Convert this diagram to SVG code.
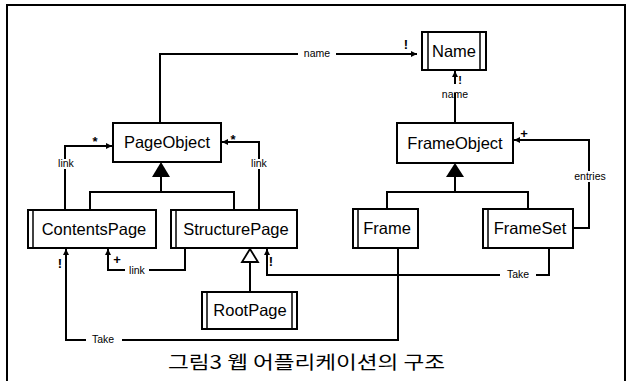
<svg xmlns="http://www.w3.org/2000/svg" width="630" height="381" viewBox="0 0 630 381">
<defs>
<marker id="arr" viewBox="0 0 8 8" refX="8" refY="4" markerWidth="6" markerHeight="6" orient="auto" markerUnits="userSpaceOnUse">
<path d="M0,0 L8,4 L0,8 z" fill="#000"/>
</marker>
</defs>
<style>
.box{fill:#fff;stroke:#000;stroke-width:2}
.dbl{fill:none;stroke:#000;stroke-width:1.5}
.nt{font-family:"Liberation Sans",Arial,sans-serif;font-size:16.5px;text-anchor:middle;fill:#000}
.lb{font-family:"Liberation Sans",Arial,sans-serif;font-size:10.5px;text-anchor:middle;fill:#000}
.mk{font-family:"Liberation Sans",Arial,sans-serif;font-size:13px;font-weight:bold;text-anchor:middle;fill:#000}
.ln{fill:none;stroke:#000;stroke-width:1.2;shape-rendering:crispEdges}
.inh{fill:none;stroke:#000;stroke-width:2}
.cap{font-family:"Noto Sans CJK KR","Noto Sans CJK SC",sans-serif;font-size:18px;fill:#000}
</style>
<rect x="7" y="5" width="618" height="380" fill="none" stroke="#000" stroke-width="2"/>
<g id="connectors">
<polyline class="ln" points="160,123 160,54 417,54" marker-end="url(#arr)"/>
<rect x="298" y="48" width="38" height="11" fill="#fff"/>
<text class="lb" x="317" y="57">name</text>
<text class="mk" x="406" y="49">!</text>
<line class="ln" x1="455" y1="123" x2="455" y2="71" marker-end="url(#arr)"/>
<rect x="440" y="84" width="30" height="9" fill="#fff"/>
<text class="mk" x="460" y="84" style="font-size:11px">!</text>
<text class="lb" x="455" y="98">name</text>
<polyline class="ln" points="572,228 589,228 589,140 514,140" marker-end="url(#arr)"/>
<rect x="576" y="171" width="30" height="11" fill="#fff"/>
<text class="lb" x="590" y="180">entries</text>
<text class="mk" x="524" y="138">+</text>
<polygon points="161,162 152,177 170,177" fill="#000"/>
<polyline class="inh" points="161,177 161,192"/>
<polyline class="inh" points="90,210 90,192 234,192 234,210"/>
<polygon points="455,163 446,177 464,177" fill="#000"/>
<polyline class="inh" points="455,177 455,192"/>
<polyline class="inh" points="387,209 387,192 528,192 528,209"/>
<polyline class="ln" points="65,210 65,146 112,146" marker-end="url(#arr)"/>
<rect x="55" y="159" width="22" height="10" fill="#fff"/>
<text class="lb" x="66" y="167">link</text>
<text class="mk" x="95" y="146">*</text>
<polyline class="ln" points="259,210 259,142 222,142" marker-end="url(#arr)"/>
<rect x="248" y="159" width="22" height="10" fill="#fff"/>
<text class="lb" x="259" y="167">link</text>
<text class="mk" x="233" y="144">*</text>
<polyline class="ln" points="185,248 185,270 108,270 108,249" marker-end="url(#arr)"/>
<rect x="125" y="265" width="24" height="10" fill="#fff"/>
<text class="lb" x="137" y="274">link</text>
<text class="mk" x="117" y="264">+</text>
<polyline class="ln" points="398,248 398,340 66,340 66,249" marker-end="url(#arr)"/>
<rect x="86" y="334" width="36" height="11" fill="#fff"/>
<text class="lb" x="103" y="343">Take</text>
<text class="mk" x="60" y="268">!</text>
<polyline class="ln" points="549,248 549,275 267,275 267,249" marker-end="url(#arr)"/>
<rect x="500" y="269" width="36" height="11" fill="#fff"/>
<text class="lb" x="518" y="278">Take</text>
<text class="mk" x="271" y="266">!</text>
<polygon points="250,249 242,262 258,262" fill="#fff" stroke="#000" stroke-width="1.8"/>
<line class="inh" x1="250" y1="262" x2="250" y2="292"/>
</g>
<g id="Name">
<rect class="box" x="422" y="32" width="64" height="38"/>
<line class="dbl" x1="428" y1="32" x2="428" y2="70"/>
<line class="dbl" x1="480" y1="32" x2="480" y2="70"/>
<text class="nt" x="454" y="57">Name</text>
</g>
<g id="PageObject">
<rect class="box" x="113" y="123" width="108" height="39"/>
<text class="nt" x="167" y="148">PageObject</text>
</g>
<g id="FrameObject">
<rect class="box" x="397" y="123" width="116" height="40"/>
<text class="nt" x="455" y="149">FrameObject</text>
</g>
<g id="ContentsPage">
<rect class="box" x="28" y="210" width="128" height="38"/>
<line class="dbl" x1="33" y1="210" x2="33" y2="248"/>
<text class="nt" x="94" y="235">ContentsPage</text>
</g>
<g id="StructurePage">
<rect class="box" x="171" y="210" width="126" height="38"/>
<line class="dbl" x1="176" y1="210" x2="176" y2="248"/>
<text class="nt" x="236" y="235">StructurePage</text>
</g>
<g id="RootPage">
<rect class="box" x="202" y="292" width="95" height="37"/>
<line class="dbl" x1="207" y1="292" x2="207" y2="329"/>
<line class="dbl" x1="292" y1="292" x2="292" y2="329"/>
<text class="nt" x="250" y="316">RootPage</text>
</g>
<g id="Frame">
<rect class="box" x="353" y="209" width="65" height="39"/>
<line class="dbl" x1="358" y1="209" x2="358" y2="248"/>
<text class="nt" x="387" y="234">Frame</text>
</g>
<g id="FrameSet">
<rect class="box" x="483" y="209" width="90" height="39"/>
<line class="dbl" x1="488" y1="209" x2="488" y2="248"/>
<text class="nt" x="530" y="234">FrameSet</text>
</g>
<text class="cap" x="168" y="369" textLength="277" lengthAdjust="spacingAndGlyphs">그림3 웹 어플리케이션의 구조</text>
</svg>
